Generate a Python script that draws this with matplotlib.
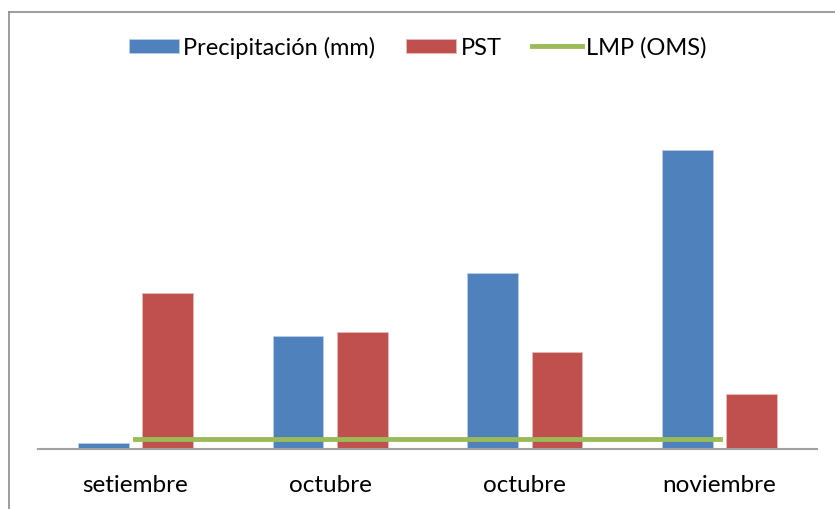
import numpy as np
import matplotlib
matplotlib.use('Agg')
import matplotlib.pyplot as plt
from matplotlib.lines import Line2D

plt.rcParams['font.family'] = ['Lato', 'DejaVu Sans']

# datos (unidades relativas)
meses = ['setiembre', 'octubre', 'octubre', 'noviembre']
precipitacion = [6, 113, 176, 299]
pst = [156, 117, 97, 55]
lmp = [10, 10, 10, 10]

azul = '#4f81bd'
rojo = '#c0504d'
verde = '#9bbb59'

W, H = 835, 510
fig = plt.figure(figsize=(W / 100, H / 100), dpi=100)
ax = fig.add_axes([38 / W, 60 / H, (817 - 38) / W, 330 / H])

x = np.arange(len(meses))
ancho = 0.26
b1 = ax.bar(x - 0.165, precipitacion, ancho, color=azul, label='Precipitación (mm)',
            edgecolor='#b9cde5', linewidth=0.6)
b2 = ax.bar(x + 0.165, pst, ancho, color=rojo, label='PST',
            edgecolor='#e6b9b8', linewidth=0.6)
l1, = ax.plot(x, lmp, color=verde, linewidth=3.5, label='LMP (OMS)')

ax.set_xlim(-0.5, len(meses) - 0.5)
ax.set_ylim(0, 330)
ax.set_xticks(x)
ax.set_xticklabels(meses, fontsize=17.5)
ax.tick_params(axis='x', length=0, pad=18)
ax.set_yticks([])
for s in ['top', 'right', 'left']:
    ax.spines[s].set_visible(False)
ax.spines['bottom'].set_color('#a0a0a0')
ax.spines['bottom'].set_linewidth(1.5)

fig.legend(handles=[b1, b2, l1], loc='center', bbox_to_anchor=(418 / W, 1 - 48 / H),
           ncol=3, frameon=False, fontsize=17, handlelength=2.1, handleheight=0.55,
           handletextpad=0.2, columnspacing=1.3)

# marco del grafico
fig.add_artist(Line2D([8.5 / W, 8.5 / W], [0, 1 - 13 / H], transform=fig.transFigure,
                      color='#8c8c8c', linewidth=1.2))
fig.add_artist(Line2D([8.5 / W, 1], [1 - 13 / H, 1 - 13 / H], transform=fig.transFigure,
                      color='#8c8c8c', linewidth=1.2))

fig.savefig('out.png', dpi=100)
